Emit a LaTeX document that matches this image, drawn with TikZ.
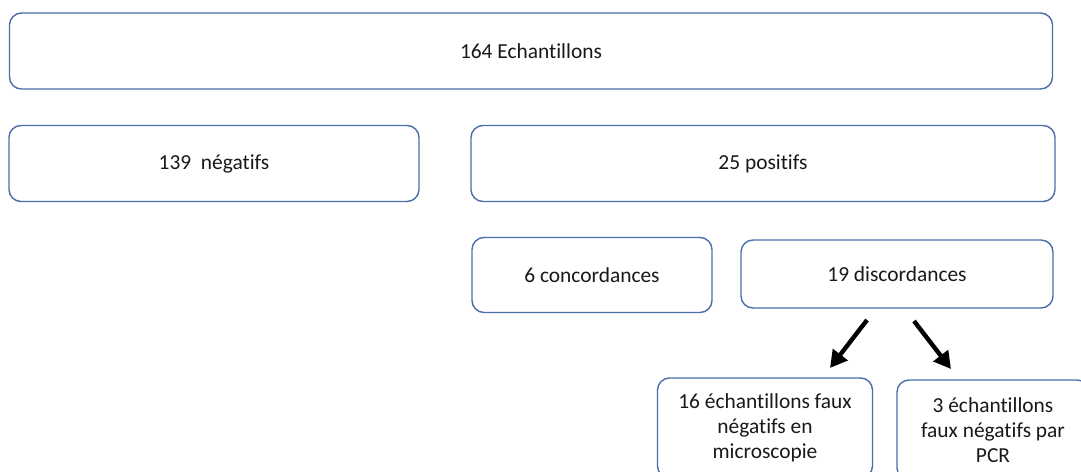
\documentclass[tikz,border=0pt]{standalone}
\usepackage{fontspec}
\setmainfont[Ligatures={NoCommon}]{Carlito}
\usetikzlibrary{arrows.meta}
\definecolor{boxblue}{HTML}{4A6FA8}
\tikzset{
  box/.style={draw=boxblue, line width=1.4pt, rounded corners=12pt, fill=white,
    inner sep=0pt, align=center, text=black!90,
    font=\fontsize{21.4}{25}\selectfont},
  bigarrow/.style={line width=4.4pt, -{Triangle[length=17pt,width=18pt]}, black}
}
\begin{document}
\begin{tikzpicture}[x=1pt,y=-1pt]
\useasboundingbox (0,0) rectangle (1081,471);
\clip (0,0) rectangle (1081,471);
\fill[white] (0,0) rectangle (1081,471);
\node[box, minimum width=1043pt, minimum height=76pt] (all) at (531,51) {164 Echantillons};
\node[box, minimum width=410pt, minimum height=76pt] (neg) at (214,163.5) {139\ \ négatifs};
\node[box, minimum width=584pt, minimum height=76pt] (pos) at (763,163.5) {25 positifs};
\node[box, minimum width=240pt, minimum height=75pt] (conc) at (592,275) {6 concordances};
\node[box, minimum width=312pt, minimum height=68pt] (disc) at (897,274) {19 discordances};
\node[box, minimum width=215pt, minimum height=100pt] (micro) at (765,428)
  {16 échantillons faux\\négatifs en\\microscopie};
\node[box, minimum width=192pt, minimum height=100pt] (pcr) at (993,430)
  {3 échantillons\\faux négatifs par\\PCR};
\coordinate (a1s) at (867,320);
\coordinate (a1e) at (830,368);
\coordinate (a2s) at (914,321);
\coordinate (a2e) at (951,369);
\draw[bigarrow] (a1s) -- (a1e);
\draw[bigarrow] (a2s) -- (a2e);
\end{tikzpicture}
\end{document}
